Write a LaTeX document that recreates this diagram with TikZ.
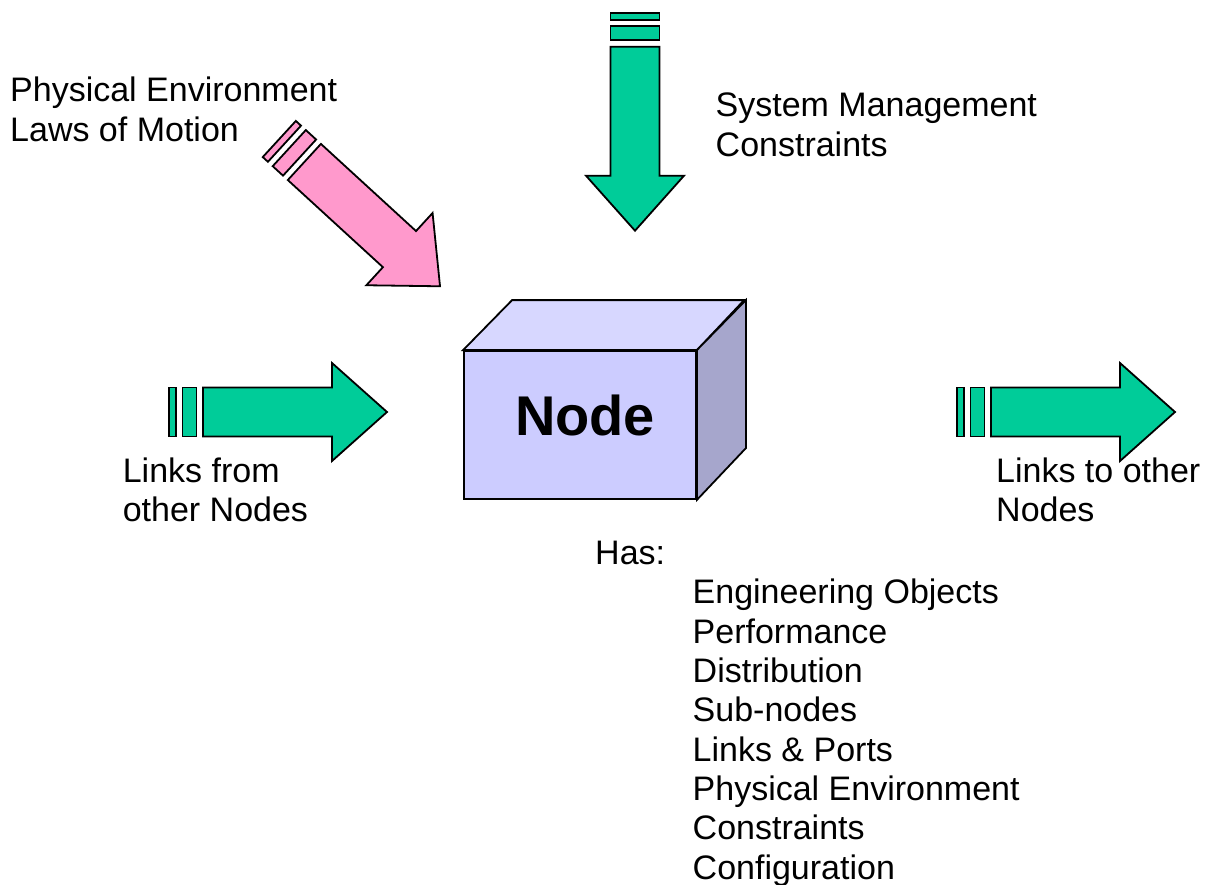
\documentclass[tikz,border=0pt]{standalone}
\usepackage{fontspec}
\setmainfont{Liberation Sans}
\usetikzlibrary{positioning}

\definecolor{linkgreen}{HTML}{00CC99}
\definecolor{envpink}{HTML}{FF99CC}
\definecolor{cubefront}{HTML}{CCCCFF}
\definecolor{cubetop}{HTML}{D7D7FF}
\definecolor{cubeside}{HTML}{A6A6CC}

\tikzstyle{fat} = [draw, line width=1.8pt, line join=miter]
\tikzstyle{txt} = [anchor=base west, align=left, inner sep=0pt, font=\fontsize{34}{39.3}\selectfont]

% tail, angle, colour
\newcommand{\stripedarrow}[3]{
	\begin{scope}[shift={#1}, rotate=#2]
		\draw[fat, fill=#3] (0,-24.5) rectangle (7,24.5);
		\draw[fat, fill=#3] (13.5,-24.5) rectangle (27.5,24.5);
		\draw[fat, fill=#3] (34,-24.5) -- (163,-24.5) -- (163,-49) -- (218,0) -- (163,49) -- (163,24.5) -- (34,24.5) -- cycle;
	\end{scope}}

\begin{document}
\begin{tikzpicture}[x=1pt, y=-1pt]

	\useasboundingbox (0,0) rectangle (1206,884);

	% Arrows
	\stripedarrow{(279.3,139)}{-42.5}{envpink}
	\stripedarrow{(635,12.7)}{-90}{linkgreen}
	\stripedarrow{(169,412)}{0}{linkgreen}
	\stripedarrow{(957,412)}{0}{linkgreen}

	% Cube
	\node[fat, fill=cubefront, minimum width=232pt, minimum height=148pt, inner sep=0pt] (cube) at (580,425) {};
	\draw[fat, fill=cubetop] (cube.north west) -- ++(49,-50) -- ++(232,0) -- (cube.north east) -- cycle;
	\draw[fat, fill=cubeside] (cube.north east) -- ++(49,-50) -- ++(0,148) -- (cube.south east) -- cycle;
	\node[anchor=base, inner sep=0pt, font=\bfseries\fontsize{56}{60}\selectfont] (cubename) at (585,435) {Node};

	% Labels (anchored at the last line)
	\node[txt] (physenv) at (10,141) {Physical Environment\\Laws of Motion};
	\node[txt] (sysmgmt) at (715.5,156) {System Management\\Constraints};
	\node[txt] (linksin) at (122.6,521.7) {Links from\\other Nodes};
	\node[txt] (linksout) at (996,521.7) {Links to other\\Nodes};
	\node[txt] (has) at (595,564.3) {Has:};
	\node[txt] (hasitems) at (692.5,879) {Engineering Objects\\Performance\\Distribution\\Sub-nodes\\Links \& Ports\\Physical Environment\\Constraints\\Configuration};

\end{tikzpicture}
\end{document}
